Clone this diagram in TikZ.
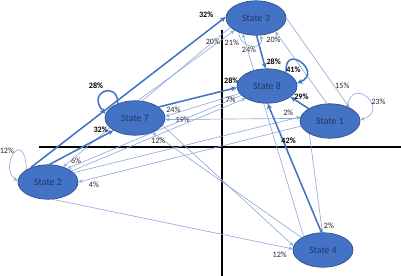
\documentclass[tikz,border=0pt]{standalone}
\usepackage{fontspec}
\setmainfont{Carlito}
\usetikzlibrary{arrows.meta,shapes.geometric,backgrounds}
\definecolor{StBlue}{HTML}{4472C4}
\definecolor{StEdge}{HTML}{2F528F}
\definecolor{StText}{HTML}{1F3864}
\definecolor{Thin}{HTML}{8EA9DB}

\begin{document}
\begin{tikzpicture}[x=0.025cm,y=-0.025cm,>=Stealth,
    st/.style={ellipse,draw=StEdge,fill=StBlue,line width=.5pt,minimum width=1.5cm,minimum height=.86cm,inner sep=0pt,text=StText,font=\fontsize{7}{8}\selectfont},
    hv/.style={draw=StBlue,line width=1.1pt,-{Stealth[length=4pt,width=3.6pt]}},
    lt/.style={draw=Thin,line width=.45pt,-{Stealth[length=3pt,width=2.6pt]}},
    pc/.style={font=\fontsize{5.8}{6}\selectfont,text=black!85,inner sep=.5pt},
    pb/.style={pc,font=\bfseries\fontsize{5.8}{6}\selectfont,text=black}]
  \useasboundingbox (0,0) rectangle (401,276);
  % states
  \node[st] (s3) at (256,18) {State 3};
  \node[st] (s8) at (267,86) {State 8};
  \node[st] (s1) at (330,121) {State 1};
  \node[st] (s7) at (135,118) {State 7};
  \node[st] (s2) at (48,182) {State 2};
  \node[st] (s4) at (323,250) {State 4};
  % axes
  \coordinate (hl) at (39,147); \coordinate (hr) at (401,147);
  \coordinate (vt) at (222,30); \coordinate (vb) at (222,276);
  \begin{scope}[on background layer]
    \draw[line width=1pt] (hl)--(hr); \draw[line width=1pt] (vt)--(vb);
    % light transitions
    \draw[lt] (s2.150) .. controls (24,125) and (-2,168) .. node[pc,pos=.4,xshift=-7pt]{12\%} (s2.178);
    \draw[lt] (s1.40) .. controls (352,74) and (391,110) .. node[pc,pos=.6,right=0pt]{23\%} (s1.2);
    \draw[lt] (s3.220) .. controls (240,50) and (265,50) .. node[pc,pos=.5,below=0pt,xshift=-2pt]{24\%} (s3.285);
    \draw[lt] (s7.80) -- node[pc,pos=.775,yshift=3pt]{20\%} (s3.210);
    \draw[lt] (s4.145) -- node[pc,pos=.955,left=4pt]{21\%} (s3.230);
    \draw[lt] (s1.100) -- node[pc,pos=.88,left=0pt]{20\%} (s3.-35);
    \draw[lt] (s3.east) -- node[pc,pos=.76,right=0pt]{15\%} (s1.35);
    \draw[lt] (s8.195) -- node[pc,pos=.89,above=0pt]{24\%} (s7.3);
    \draw[lt] (s1.175) -- node[pc,pos=.87]{19\%} (s7.-3);
    \draw[lt] (s4.150) -- node[pc,pos=.96,below=0pt]{12\%} (s7.-40);
    \draw[lt] (s7.-15) -- (s4.172);
    \draw[lt] (s2.-75) -- node[pc,pos=.946,below=3pt]{12\%} (s4.178);
    \draw[lt] (s1.-148) -- node[pc,pos=.93,right=1pt]{2\%} (s4.92);
    \draw[lt] (s8.200) -- node[pc,pos=.95,above=0pt]{6\%} (s2.35);
    \draw[lt] (s2.25) -- node[pc,pos=.93,above=0pt,xshift=-2pt]{7\%} (s8.210);
    \draw[lt] (s1.190) -- node[pc,pos=.93,below=2pt]{4\%} (s2.0);
    \draw[lt] (s2.20) -- node[pc,pos=.946,above=2pt]{2\%} (s1.172);
    \draw[lt] (s3.200) -- (s2.45);
    % heavy transitions
    \draw[hv] (s2.140) -- node[pb,pos=.9,yshift=12pt]{32\%} (s3.178);
    \draw[hv] (s2.85) -- node[pb,pos=.8,yshift=5pt]{32\%} (s7.210);
    \draw[hv] (s7.140) .. controls (118,80) and (86,92) .. node[pb,pos=.5,xshift=-6pt,yshift=4pt]{28\%} (s7.172);
    \draw[hv] (s7.25) -- node[pb,pos=.93,yshift=6pt]{28\%} (s8.183);
    \draw[hv] (s3.272) -- node[pb,pos=.8,right=1pt]{28\%} (s8.95);
    \draw[hv] (s8.35) .. controls (283,42) and (324,72) .. node[pb,pos=0,xshift=5pt,yshift=2pt]{41\%} (s8.5);
    \draw[hv] (s1.150) -- node[pb,pos=.4,yshift=5pt]{29\%} (s8.-25);
    \draw[hv] (s4.95) -- node[pb,pos=.715,xshift=4pt]{42\%} (s8.-88);
  \end{scope}
\end{tikzpicture}
\end{document}
